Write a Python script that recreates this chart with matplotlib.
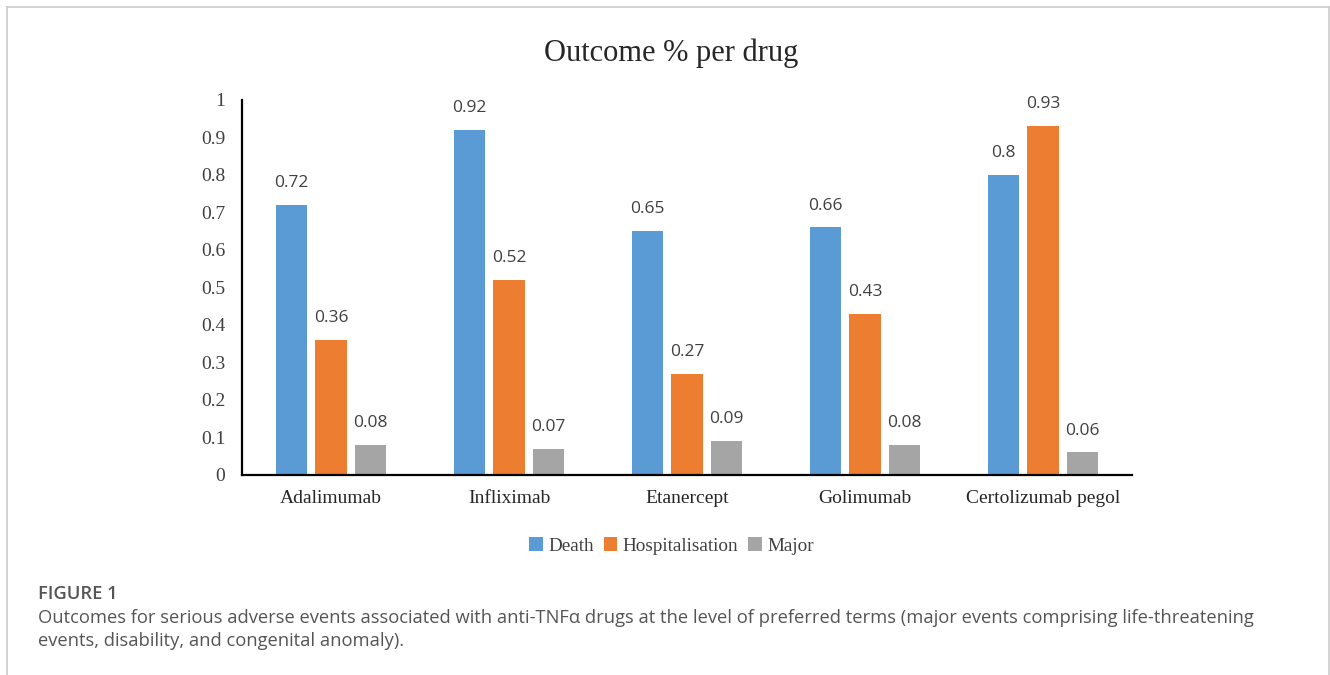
import matplotlib
matplotlib.use('Agg')
import matplotlib.pyplot as plt
import numpy as np

# data
drugs = ['Adalimumab', 'Infliximab', 'Etanercept', 'Golimumab', 'Certolizumab pegol']
death = [0.72, 0.92, 0.65, 0.66, 0.8]
hosp = [0.36, 0.52, 0.27, 0.43, 0.93]
major = [0.08, 0.07, 0.09, 0.08, 0.06]
series_names = ['Death', 'Hospitalisation', 'Major']
colors = ['#5B9BD5', '#ED7D31', '#A5A5A5']
yticks = [0, 0.1, 0.2, 0.3, 0.4, 0.5, 0.6, 0.7, 0.8, 0.9, 1]
ytick_labels = ['0', '0.1', '0.2', '0.3', '0.4', '0.5', '0.6', '0.7', '0.8', '0.9', '1']

fig = plt.figure(figsize=(13.3, 6.75), dpi=100)
ax = fig.add_axes([0.182, 0.2963, 0.669, 0.5556])

x = np.arange(len(drugs))
w = 0.176
off = 0.222
serif = 'Liberation Serif'
sans = 'Open Sans'

bars = []
for i, (vals, c, name) in enumerate(zip([death, hosp, major], colors, series_names)):
    b = ax.bar(x + (i - 1) * off, vals, width=w, color=c, label=name)
    bars.append(b)
    for xi, v in zip(x + (i - 1) * off, vals):
        ax.annotate(f'{v:g}', (xi, v), xytext=(0, 10), textcoords='offset points',
                    ha='center', va='bottom', fontsize=12.5, color='#404040',
                    family=sans)

ax.set_xlim(-0.5, 4.5)
ax.set_ylim(0, 1)
ax.set_yticks(yticks)
ax.set_yticklabels(ytick_labels, family=serif, fontsize=14, color='#404040')
ax.set_xticks(x)
ax.set_xticklabels(drugs, family=serif, fontsize=14, color='#262626')
ax.tick_params(axis='y', length=0, pad=12)
ax.tick_params(axis='x', length=0, pad=11)
for s in ['top', 'right']:
    ax.spines[s].set_visible(False)
for s in ['left', 'bottom']:
    ax.spines[s].set_linewidth(1.6)
    ax.spines[s].set_color('black')

fig.text(0.505, 0.921, 'Outcome % per drug', ha='center', va='center',
         family=serif, fontsize=22, color='#262626')

fig.legend(handles=bars, labels=series_names, loc='center', bbox_to_anchor=(0.505, 0.191),
           ncol=3, frameon=False, prop={'family': serif, 'size': 13.8},
           handlelength=0.7, handleheight=0.7, handletextpad=0.3, columnspacing=0.5)
for t in fig.legends[0].get_texts():
    t.set_color('#404040')

# caption
fig.text(0.0286, 0.120, 'FIGURE 1', ha='left', va='center', family=sans,
         fontsize=13.2, color='#555555', weight='semibold')
fig.text(0.0286, 0.085, 'Outcomes for serious adverse events associated with anti-TNF\u03b1 drugs at the level of preferred terms (major events comprising life-threatening',
         ha='left', va='center', family=sans, fontsize=13.2, color='#555555')
fig.text(0.0286, 0.050, 'events, disability, and congenital anomaly).',
         ha='left', va='center', family=sans, fontsize=13.2, color='#555555')

# light frame around the figure panel
frame_kw = dict(color='#cccccc', linewidth=1.2, transform=fig.transFigure)
fig.add_artist(plt.Line2D([0.0053, 0.0053], [0.0, 0.9896], **frame_kw))
fig.add_artist(plt.Line2D([0.0053, 0.9992], [0.9896, 0.9896], **frame_kw))
fig.add_artist(plt.Line2D([0.9992, 0.9992], [0.0, 0.9896], **frame_kw))

fig.savefig('out.png', dpi=100)
